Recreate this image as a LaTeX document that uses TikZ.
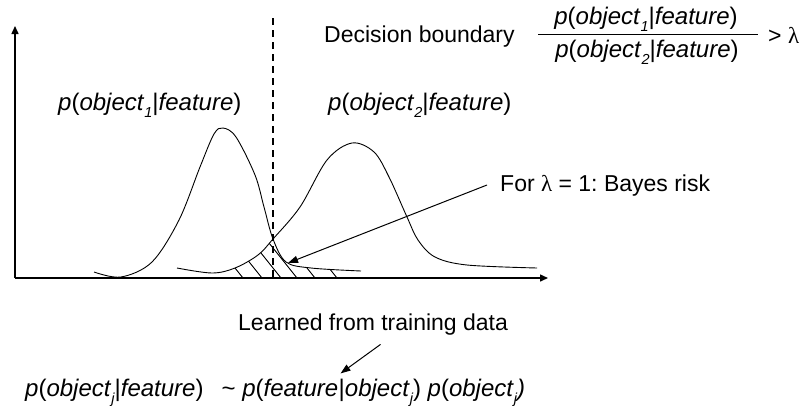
\documentclass[tikz,border=0pt]{standalone}
\usepackage{fontspec}
\setmainfont{Liberation Sans}
\newfontfamily\serifgr{Liberation Serif}
\usetikzlibrary{arrows.meta}
\frenchspacing
\newcommand\subt[1]{\raisebox{-0.3em}{\fontsize{14.5}{14.5}\selectfont\itshape #1}}
\newcommand\lam{{\serifgr λ}}
\tikzset{
  txt/.style={inner sep=0pt, font=\fontsize{23}{27}\selectfont},
  frm/.style={inner sep=0pt, font=\fontsize{24}{28}\selectfont},
  axis/.style={line width=1.5pt, -{Triangle[length=8pt,width=7pt]}},
  curve/.style={line width=0.9pt},
  hatch/.style={line width=0.9pt},
  pointer/.style={line width=1pt, -{Triangle[length=10pt,width=7pt]}},
  boundary/.style={line width=1.5pt, dash pattern=on 7pt off 5pt}
}
\begin{document}
\begin{tikzpicture}[x=1pt,y=-1pt]
\useasboundingbox (0,0) rectangle (808,413);
% axes
\coordinate (O) at (15,278);
\coordinate (Ytip) at (15,26);
\coordinate (Xtip) at (548,278);
\draw[axis] (O) -- (Ytip);
\draw[axis] (O) -- (Xtip);
% curves
\def\curveA{plot[smooth,tension=0.55] coordinates {(94,272) (121,277) (152,262) (179,220) (200,167) (214,134) (223,128) (236,137) (255,175) (264,207) (273,239) (286,262) (311,268) (361,271)}}
\def\curveB{plot[smooth,tension=0.55] coordinates {(177,268) (212,273) (235,268) (258,255) (273,239) (300,207) (327,160) (352,143) (374,152) (389,177) (407,217) (418,240) (435,257) (467,265) (537,268)}}
\draw[curve] \curveA;
\draw[curve] \curveB;
% hatching
\begin{scope}
  \clip \curveA -- (361,278) -- (94,278) -- cycle;
  \clip \curveB -- (537,278) -- (177,278) -- cycle;
  \foreach \hx in {243,262,281,297,315,337}
    \draw[hatch] (\hx,278) -- ++(-40,-50);
\end{scope}
% decision boundary
\coordinate (dtop) at (273,18);
\coordinate (dbot) at (273,278);
\draw[boundary] (dtop) -- (dbot);
% labels
\node[frm, anchor=west] (lab1) at (58,105) {\textit{p}(\textit{object}\subt{1}|\textit{feature})};
\node[frm, anchor=west] (lab2) at (328,105) {\textit{p}(\textit{object}\subt{2}|\textit{feature})};
\node[txt, anchor=west] (dec) at (324,37) {Decision boundary};
\node[frm] (num) at (646,19) {\textit{p}(\textit{object}\subt{1}|\textit{feature})};
\node[frm] (den) at (647,52) {\textit{p}(\textit{object}\subt{2}|\textit{feature})};
\coordinate (fl) at (538,34);
\coordinate (fr) at (758,34);
\draw[line width=1pt] (fl) -- (fr);
\node[txt, anchor=west] (gt) at (768,35) {> \lam};
\node[txt, anchor=west] (risk) at (500,186) {For \lam{} = 1: Bayes risk};
\coordinate (rs) at (487,185);
\coordinate (rt) at (288,263);
\draw[pointer] (rs) -- (rt);
\node[txt, anchor=west] (learned) at (238,325) {Learned from training data};
\node[frm, anchor=base west] (bl) at (25,396) {\textit{p}(\textit{object}\subt{j}|\textit{feature})\hspace{0.75em}\textasciitilde{} \textit{p}(\textit{feature}};
\node[frm, anchor=base west] (br) at (bl.base east) {|\textit{object}\subt{j}) \textit{p}(\textit{object}\subt{j}\textit{)}};
\coordinate (ls) at ([xshift=42pt,yshift=34pt]bl.north east);
\draw[pointer] (ls) -- ([xshift=2pt,yshift=5pt]bl.north east);
\end{tikzpicture}
\end{document}
